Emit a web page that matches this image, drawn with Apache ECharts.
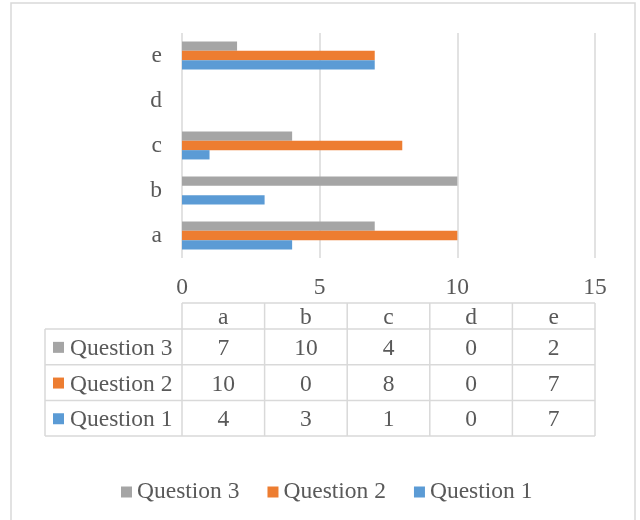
<!DOCTYPE html>
<html>
<head>
<meta charset="utf-8">
<script src="https://cdn.jsdelivr.net/npm/echarts@6/dist/echarts.min.js"></script>
<style>
  html, body { margin: 0; padding: 0; background: #fff; }
  #chart { width: 640px; height: 520px; }
</style>
</head>
<body>
<div id="chart"></div>
<script>
// Categories and answers per question
const categories = ['a', 'b', 'c', 'd', 'e'];
const question1 = [4, 3, 1, 0, 7];
const question2 = [10, 0, 8, 0, 7];
const question3 = [7, 10, 4, 0, 2];
const seriesNames = ['Question 1', 'Question 2', 'Question 3'];
const xTicks = { min: 0, max: 15, interval: 5 };

const colors = ['#5b9bd5', '#ed7d31', '#a5a5a5'];
const FONT = "'Liberation Serif', 'Times New Roman', serif";
const TEXT = '#595959';
const LINE = '#d9d9d9';
const FS = 23.5;

const chart = echarts.init(document.getElementById('chart'), null, { renderer: 'canvas' });

const values = [question1, question2, question3];

// Within each band the first series sits on top, so add them from Question 3 down
const order = [2, 1, 0];

const option = {
  animation: false,
  backgroundColor: '#fff',
  textStyle: { fontFamily: FONT },
  grid: { left: 182, right: 45, top: 33, height: 225 },
  xAxis: {
    type: 'value',
    min: xTicks.min, max: xTicks.max, interval: xTicks.interval,
    axisLine: { show: false },
    axisTick: { show: false },
    axisLabel: { color: TEXT, fontFamily: FONT, fontSize: FS, margin: 18 },
    splitLine: { lineStyle: { color: LINE, width: 1.5 } }
  },
  yAxis: {
    type: 'category',
    data: categories,
    axisLine: { show: false },
    axisTick: { show: false },
    axisLabel: { color: TEXT, fontFamily: FONT, fontSize: FS, margin: 20, padding: [3, 0, 0, 0] }
  },
  legend: {
    data: ['Question 3', 'Question 2', 'Question 1'],
    left: 116, top: 475,
    icon: 'rect', itemWidth: 11, itemHeight: 11, itemGap: 28,
    textStyle: { color: TEXT, fontFamily: FONT, fontSize: FS }
  },
  series: order.map(i => ({
    name: seriesNames[i],
    type: 'bar',
    data: values[i],
    barGap: '0%',
    barCategoryGap: '38%',
    itemStyle: { color: colors[i] }
  }))
};
chart.setOption(option);

// Data table beneath the axis, aligned to the value axis extent
function buildTable() {
  const x0 = chart.convertToPixel({ xAxisIndex: 0 }, xTicks.min);
  const x1 = chart.convertToPixel({ xAxisIndex: 0 }, xTicks.max);
  const colW = (x1 - x0) / categories.length;
  const labelLeft = 45;
  const headTop = 303, headBottom = 329;
  const rowH = 35.7;
  const textShift = 2;
  const rows = [
    { name: 'Question 3', vals: question3, color: colors[2] },
    { name: 'Question 2', vals: question2, color: colors[1] },
    { name: 'Question 1', vals: question1, color: colors[0] }
  ];
  const tableBottom = headBottom + rowH * rows.length;
  const els = [];
  const line = (xa, ya, xb, yb) => els.push({
    type: 'line', shape: { x1: xa, y1: ya, x2: xb, y2: yb },
    style: { stroke: LINE, lineWidth: 1.5 }, silent: true
  });
  const txt = (x, y, s, align) => els.push({
    type: 'text', x, y: y + textShift,
    style: { text: s, fill: TEXT, font: FS + 'px ' + FONT, textAlign: align || 'center', textVerticalAlign: 'middle' },
    silent: true
  });
  // horizontal rules
  line(x0, headTop, x1, headTop);
  line(labelLeft, headBottom, x1, headBottom);
  rows.forEach((r, i) => line(labelLeft, headBottom + rowH * (i + 1), x1, headBottom + rowH * (i + 1)));
  // vertical rules
  line(labelLeft, headBottom, labelLeft, tableBottom);
  for (let c = 0; c <= categories.length; c++) {
    line(x0 + colW * c, headTop, x0 + colW * c, tableBottom);
  }
  // header
  categories.forEach((cat, c) => txt(x0 + colW * (c + 0.5), (headTop + headBottom) / 2, cat));
  // rows
  rows.forEach((r, i) => {
    const cy = headBottom + rowH * (i + 0.5);
    els.push({
      type: 'rect', shape: { x: 53, y: cy - 5, width: 11, height: 11 },
      style: { fill: r.color }, silent: true
    });
    txt(70, cy, r.name, 'left');
    r.vals.forEach((v, c) => txt(x0 + colW * (c + 0.5), cy, String(v)));
  });
  // outer frame
  els.push({
    type: 'rect', shape: { x: 11, y: 3, width: 624, height: 540 },
    style: { fill: null, stroke: LINE, lineWidth: 1.5 }, silent: true, z: -1
  });
  chart.setOption({ graphic: { elements: els } });
}
buildTable();
</script>
</body>
</html>
